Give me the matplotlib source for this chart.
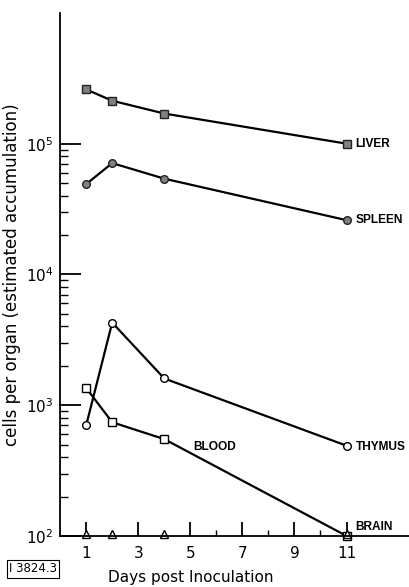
import matplotlib
matplotlib.use('Agg')
import matplotlib.pyplot as plt
from matplotlib.ticker import FixedLocator, NullFormatter

# data
days = [1, 2, 4, 11]
liver = [2.6e5, 2.13e5, 1.7e5, 1.0e5]
spleen = [4.9e4, 7.1e4, 5.4e4, 2.6e4]
thymus = [700, 4280, 1600, 490]
blood = [1355, 740, 550, 100]
brain = [100, 100, 100, 100]

xticks = [1, 3, 5, 7, 9, 11]
yticks = [1e2, 1e3, 1e4, 1e5]
ytick_labels = ['$10^2$', '$10^3$', '$10^4$', '$10^5$']
# minor ticks only between 10^2 and 10^5, as in the original
yminor = [m * d for d in (1e2, 1e3, 1e4) for m in range(2, 10)]

plt.rcParams['font.family'] = ['DejaVu Sans']

fig = plt.figure(figsize=(4.09, 5.87), dpi=100)
ax = fig.add_axes([0.147, 0.087, 0.853, 0.891])

lw = 1.6
ax.plot(days, liver, color='black', lw=lw, marker='s', ms=5.5,
        mfc='#808080', mec='#222222', mew=1.0, clip_on=False)
ax.plot(days, spleen, color='black', lw=lw, marker='o', ms=5.5,
        mfc='#808080', mec='#222222', mew=1.0, clip_on=False)
ax.plot(days, thymus, color='black', lw=lw, marker='o', ms=5.5,
        mfc='white', mec='black', mew=1.0, clip_on=False)
ax.plot(days, blood, color='black', lw=lw, marker='s', ms=5.5,
        mfc='white', mec='black', mew=1.0, clip_on=False)
ax.plot(days, [b * 1.03 for b in brain], linestyle='none',
        marker='^', ms=6, mfc='white', mec='black', mew=1.0, clip_on=False)

ax.set_yscale('log')
ax.set_xlim(0, 13.4)
ax.set_ylim(1e2, 1e6)

ax.spines['top'].set_visible(False)
ax.spines['right'].set_visible(False)
ax.spines['left'].set_linewidth(1.3)
ax.spines['bottom'].set_linewidth(1.3)

ax.xaxis.set_major_locator(FixedLocator(xticks))
ax.xaxis.set_minor_locator(FixedLocator([2, 4, 6, 8, 10]))
ax.set_xticklabels([str(t) for t in xticks], fontsize=11)
ax.tick_params(axis='x', which='major', direction='in', length=10, width=1.3, pad=7)
ax.tick_params(axis='x', which='minor', direction='in', length=4, width=1.0)

ax.yaxis.set_major_locator(FixedLocator(yticks))
ax.set_yticklabels(ytick_labels, fontsize=11)
ax.yaxis.set_minor_locator(FixedLocator(yminor))
ax.yaxis.set_minor_formatter(NullFormatter())
ax.tick_params(axis='y', which='major', direction='in', length=15, width=1.3, pad=5)
ax.tick_params(axis='y', which='minor', direction='in', length=6, width=1.0)

ax.set_ylabel('cells per organ (estimated accumulation)', fontsize=12)
ax.yaxis.set_label_coords(-0.112, 0.5)
ax.set_xlabel('Days post Inoculation', fontsize=11)
ax.xaxis.set_label_coords(0.375, -0.065)

lab = dict(fontsize=8.6, fontweight='bold', family=['Liberation Sans', 'DejaVu Sans'],
           va='center', ha='left')
ax.text(11.35, 1.0e5, 'LIVER', **lab)
ax.text(11.35, 2.6e4, 'SPLEEN', **lab)
ax.text(11.35, 480, 'THYMUS', **lab)
ax.text(5.1, 480, 'BLOOD', **lab)
ax.text(11.35, 118, 'BRAIN', **lab)

fig.text(0.022, 0.031, 'I 3824.3', fontsize=8.5, va='center', ha='left',
         bbox=dict(boxstyle='square,pad=0.2', fc='white', ec='black', lw=0.8))

fig.savefig('out.png', dpi=100)
